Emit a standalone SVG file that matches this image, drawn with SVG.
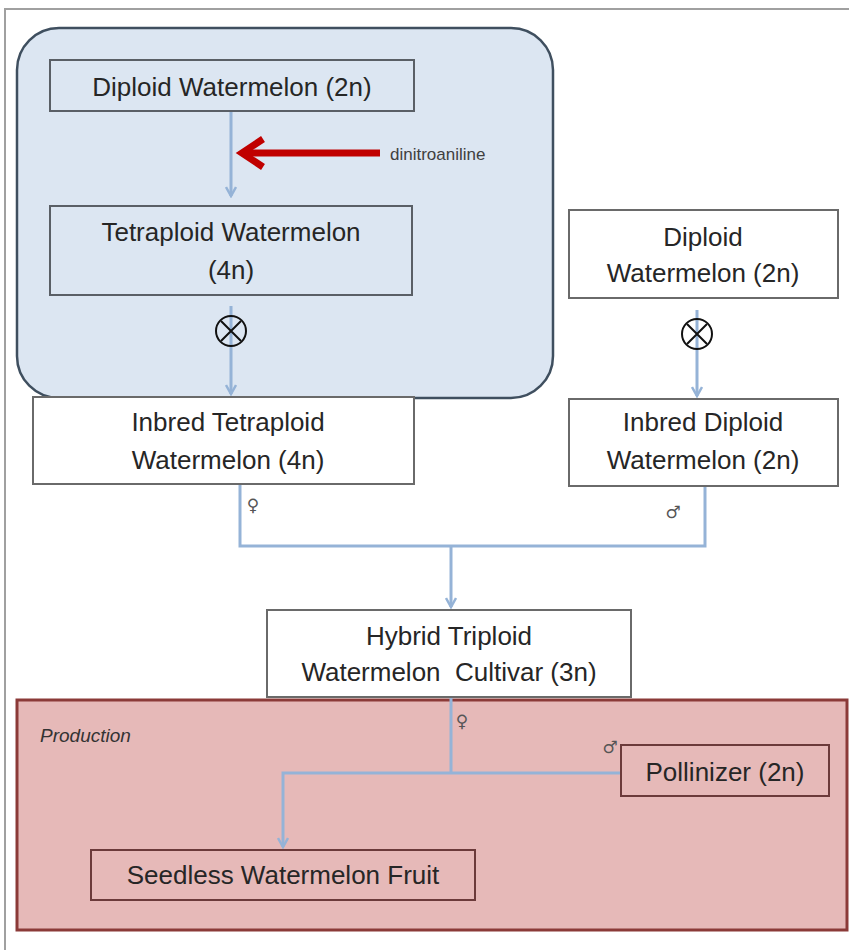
<svg xmlns="http://www.w3.org/2000/svg" width="849" height="950" viewBox="0 0 849 950">
<style>
.t{font-family:"Liberation Sans",Arial,sans-serif;font-size:26px;fill:#262626;text-anchor:middle}
.box{fill:#ffffff;stroke:#6a6a6a;stroke-width:2}
.bbox{fill:#dce6f2;stroke:#5a5f66;stroke-width:2}
.pbox{fill:#e6b9b8;stroke:#6b3a3a;stroke-width:2}
.con{fill:none;stroke:#95b3d7;stroke-width:3}
.sym{font-family:"DejaVu Sans",sans-serif;font-size:17px;fill:#555;text-anchor:middle}
</style>
<defs>
<marker id="ah" markerWidth="12" markerHeight="12" refX="10" refY="6" orient="auto" markerUnits="userSpaceOnUse">
<path d="M1,1 L10,6 L1,11" fill="none" stroke="#95b3d7" stroke-width="2.5"/>
</marker>
</defs>
<rect width="849" height="950" fill="#ffffff"/>
<path d="M5,950 L5,9 L849,9" fill="none" stroke="#a0a0a0" stroke-width="2"/>
<g id="tetraploid-group">
<rect x="17" y="28" width="536" height="370" rx="42" fill="#dce6f2" stroke="#3f4f5f" stroke-width="2.5"/>
</g>
<g id="production-group">
<rect x="17" y="700" width="830" height="230" fill="#e6b9b8" stroke="#8b3a38" stroke-width="3"/>
<text x="40" y="742" style="font-family:'Liberation Sans',Arial,sans-serif;font-size:19px;font-style:italic;fill:#333">Production</text>
</g>
<g id="connectors">
<line class="con" x1="231" y1="111" x2="231" y2="196" marker-end="url(#ah)"/>
<line class="con" x1="231" y1="306" x2="231" y2="394" marker-end="url(#ah)"/>
<line class="con" x1="697" y1="310" x2="697" y2="396" marker-end="url(#ah)"/>
<path class="con" d="M240,484 L240,546 L705,546 L705,486"/>
<line class="con" x1="451" y1="546" x2="451" y2="607" marker-end="url(#ah)"/>
<line class="con" x1="451" y1="697" x2="451" y2="773"/>
<path class="con" d="M621,773 L283,773 L283,847" marker-end="url(#ah)"/>
<line x1="380" y1="153" x2="246" y2="153" stroke="#c00000" stroke-width="7"/>
<path d="M263,139 L242,153 L263,167" fill="none" stroke="#c00000" stroke-width="7" stroke-linejoin="miter"/>
<text x="390" y="160" style="font-family:'Liberation Sans',Arial,sans-serif;font-size:17px;fill:#404040">dinitroaniline</text>
<g fill="none" stroke="#111" stroke-width="2">
<circle cx="231" cy="331" r="15"/>
<path d="M221,321 L241,341 M241,321 L221,341"/>
<circle cx="697" cy="334" r="15"/>
<path d="M687,324 L707,344 M707,324 L687,344"/>
</g>
<text class="sym" x="253" y="511">♀</text>
<text class="sym" x="673" y="518">♂</text>
<text class="sym" x="462" y="727">♀</text>
<text class="sym" x="610" y="753">♂</text>
</g>
<g id="diploid-2n">
<rect class="bbox" x="50" y="60" width="364" height="51"/>
<text class="t" x="232" y="96">Diploid Watermelon (2n)</text>
</g>
<g id="tetraploid-4n">
<rect class="bbox" x="50" y="206" width="362" height="89"/>
<text class="t" x="231" y="241">Tetraploid Watermelon</text>
<text class="t" x="231" y="279">(4n)</text>
</g>
<g id="diploid-right">
<rect class="box" x="569" y="210" width="269" height="88"/>
<text class="t" x="703" y="246">Diploid</text>
<text class="t" x="703" y="282">Watermelon (2n)</text>
</g>
<g id="inbred-tetraploid">
<rect class="box" x="33" y="397" width="381" height="87"/>
<text class="t" x="228" y="431">Inbred Tetraploid</text>
<text class="t" x="228" y="469">Watermelon (4n)</text>
</g>
<g id="inbred-diploid">
<rect class="box" x="569" y="399" width="269" height="87"/>
<text class="t" x="703" y="431">Inbred Diploid</text>
<text class="t" x="703" y="469">Watermelon (2n)</text>
</g>
<g id="hybrid-triploid">
<rect class="box" x="267" y="610" width="364" height="87"/>
<text class="t" x="449" y="645">Hybrid Triploid</text>
<text class="t" x="449" y="681" xml:space="preserve">Watermelon  Cultivar (3n)</text>
</g>
<g id="pollinizer">
<rect class="pbox" x="621" y="745" width="208" height="51"/>
<text class="t" x="725" y="781">Pollinizer (2n)</text>
</g>
<g id="seedless">
<rect class="pbox" x="91" y="850" width="384" height="50"/>
<text class="t" x="283" y="884">Seedless Watermelon Fruit</text>
</g>
</svg>
